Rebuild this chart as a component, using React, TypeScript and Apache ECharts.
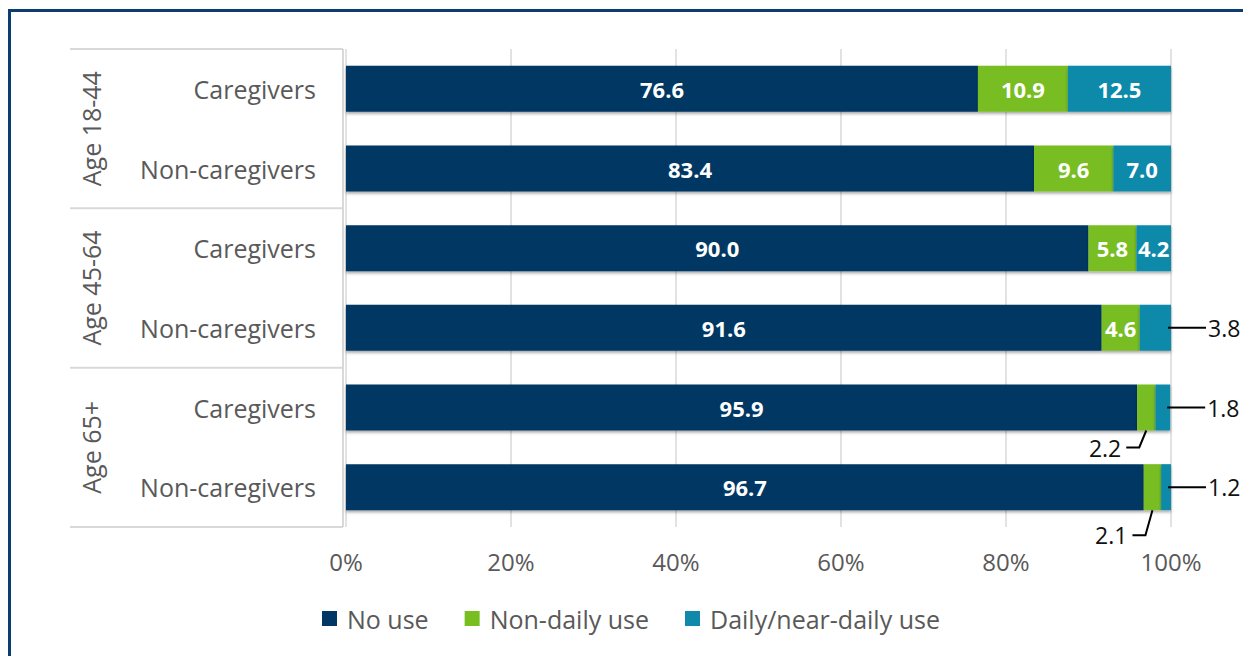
import React, { useEffect, useRef } from "react";
import * as echarts from "echarts";

const rowLabels = ["Caregivers", "Non-caregivers", "Caregivers", "Non-caregivers", "Caregivers", "Non-caregivers"];
const ageGroups = ["Age 18-44", "Age 45-64", "Age 65+"];
const seriesNames = ["No use", "Non-daily use", "Daily/near-daily use"];
const noUse = [76.6, 83.4, 90.0, 91.6, 95.9, 96.7];
const nonDaily = [10.9, 9.6, 5.8, 4.6, 2.2, 2.1];
const dailyUse = [12.5, 7.0, 4.2, 3.8, 1.8, 1.2];
const xTickValues = [0, 20, 40, 60, 80, 100];
// cells whose labels sit outside the bar: [seriesIndex, rowIndex]
const rightLabelled = [[2, 3], [2, 4], [2, 5]];
const belowLabelled = [[1, 4], [1, 5]];

const COLORS = ["#003764", "#78be21", "#1089aa"];
const FONT = "'Open Sans', sans-serif";
const GRID = { left: 346, right: 72, top: 49, bottom: 129 };
const W = 1243;
const H = 656;
const belowDrop = [17, 25];

export default function App() {
  const ref = useRef<HTMLDivElement>(null);
  useEffect(() => {
    if (!ref.current) return;
    const chart = echarts.init(ref.current, undefined, { renderer: "svg" });
    const values = [noUse, nonDaily, dailyUse];
    const isOutside = (s: number, r: number) =>
      rightLabelled.some(([a, b]) => a === s && b === r) || belowLabelled.some(([a, b]) => a === s && b === r);

    const plotH = H - GRID.top - GRID.bottom;
    const band = plotH / rowLabels.length;
    const lineColor = "#d9d9d9";
    const tableLines: any[] = [];
    for (let k = 0; k <= ageGroups.length; k++) {
      const y = GRID.top + k * 2 * band;
      tableLines.push({
        type: "line",
        shape: { x1: 70, y1: y, x2: GRID.left - 3, y2: y },
        style: { stroke: lineColor, lineWidth: 2 },
      });
    }
    tableLines.push({
      type: "line",
      shape: { x1: GRID.left - 3, y1: GRID.top, x2: GRID.left - 3, y2: GRID.top + plotH },
      style: { stroke: lineColor, lineWidth: 2 },
    });
    const ageTexts = ageGroups.map((g, i) => ({
      type: "text",
      x: 91,
      y: GRID.top + (i * 2 + 1) * band,
      rotation: Math.PI / 2,
      style: {
        text: g,
        font: `25px ${FONT}`,
        fill: "#595959",
        textAlign: "center",
        textVerticalAlign: "middle",
      },
    }));

    const annotations = [
      ...rightLabelled.map(([s, r]) => ({
        kind: "right",
        x: noUse[r] + nonDaily[r] + dailyUse[r],
        row: r,
        text: values[s][r].toFixed(1),
        drop: 0,
      })),
      ...belowLabelled.map(([s, r], i) => ({
        kind: "below",
        x: noUse[r] + nonDaily[r] / 2,
        row: r,
        text: values[s][r].toFixed(1),
        drop: belowDrop[i],
      })),
    ];

    const barSeries = values.map((vals, s) => ({
      name: seriesNames[s],
      type: "bar",
      stack: "total",
      barWidth: 46,
      data: vals,
      itemStyle: {
        color: COLORS[s],
        shadowColor: "rgba(0,0,0,0.35)",
        shadowBlur: 3,
        shadowOffsetY: 2,
      },
      label: {
        show: true,
        position: "inside",
        color: "#ffffff",
        fontFamily: FONT,
        fontWeight: "bold",
        fontSize: 22,
        formatter: (p: any) => (isOutside(s, p.dataIndex) ? "" : Number(p.value).toFixed(1)),
      },
    }));

    const annotationSeries = {
      type: "custom",
      name: "annotations",
      silent: true,
      z: 5,
      data: annotations.map((a) => [a.x, a.row]),
      renderItem: (params: any, api: any) => {
        const a = annotations[params.dataIndex];
        const pt = api.coord([api.value(0), api.value(1)]);
        const halfBar = 23;
        if (a.kind === "right") {
          return {
            type: "group",
            children: [
              {
                type: "line",
                shape: { x1: pt[0] - 3, y1: pt[1], x2: pt[0] + 35, y2: pt[1] },
                style: { stroke: "#000", lineWidth: 2 },
              },
              {
                type: "text",
                x: pt[0] + 37,
                y: pt[1],
                style: {
                  text: a.text,
                  font: `23px ${FONT}`,
                  fill: "#111",
                  textAlign: "left",
                  textVerticalAlign: "middle",
                },
              },
            ],
          };
        }
        const yb = pt[1] + halfBar;
        const ye = yb + a.drop;
        return {
          type: "group",
          children: [
            {
              type: "polyline",
              shape: { points: [[pt[0], yb], [pt[0] - 7, ye], [pt[0] - 20, ye]] },
              style: { stroke: "#000", lineWidth: 2, fill: "none" },
            },
            {
              type: "text",
              x: pt[0] - 25,
              y: ye,
              style: {
                text: a.text,
                font: `23px ${FONT}`,
                fill: "#111",
                textAlign: "right",
                textVerticalAlign: "middle",
              },
            },
          ],
        };
      },
    };

    chart.setOption({
      animation: false,
      backgroundColor: "#ffffff",
      grid: { ...GRID, containLabel: false },
      legend: {
        data: seriesNames,
        left: 317,
        top: 601,
        icon: "rect",
        itemWidth: 15,
        itemHeight: 15,
        itemGap: 36,
        textStyle: { fontFamily: FONT, fontSize: 25, color: "#595959", padding: [0, 0, 0, 5] },
      },
      xAxis: {
        type: "value",
        min: xTickValues[0],
        max: xTickValues[xTickValues.length - 1],
        interval: xTickValues[1] - xTickValues[0],
        axisLine: { show: false },
        axisTick: { show: false },
        splitLine: { show: true, lineStyle: { color: lineColor, width: 1.5 } },
        axisLabel: {
          formatter: "{value}%",
          fontFamily: FONT,
          fontSize: 24,
          color: "#595959",
          margin: 22,
        },
      },
      yAxis: {
        type: "category",
        inverse: true,
        data: rowLabels,
        axisLine: { show: false },
        axisTick: { show: false },
        axisLabel: { fontFamily: FONT, fontSize: 25, color: "#595959", margin: 30 },
      },
      graphic: [
        {
          type: "rect",
          shape: { x: 9.5, y: 10.5, width: 1400, height: 800 },
          style: { stroke: "#0b3d6e", lineWidth: 3, fill: "none" },
          silent: true,
        },
        ...tableLines,
        ...ageTexts,
      ],
      series: [...barSeries, annotationSeries],
    });
    return () => chart.dispose();
  }, []);
  return <div ref={ref} style={{ position: "fixed", left: 0, top: 0, width: W, height: H }} />;
}
